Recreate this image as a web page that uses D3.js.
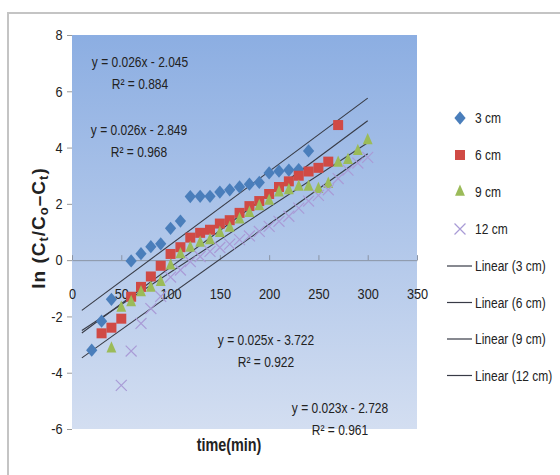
<!DOCTYPE html>
<html>
<head>
<meta charset="utf-8">
<script src="https://cdn.jsdelivr.net/npm/d3@7"></script>
<style>
  body { margin: 0; background: #fff; }
  svg text { font-family: "Liberation Sans", Arial, sans-serif; fill: #222; }
</style>
</head>
<body>
<div id="chart"></div>
<script>
// sample times (min)
const times = [20, 30, 40, 50, 60, 70, 80, 90, 100, 110, 120, 130, 140, 150, 160,
  170, 180, 190, 200, 210, 220, 230, 240, 250, 260, 270, 280, 290, 300];

// ln(Ct/Co-Ct) per bed height, null = no point
const cm3 = [-3.2, -2.17, -1.39, null, -0.03, 0.23, 0.48, 0.58, 1.13, 1.39, 2.26, 2.27,
  2.27, 2.42, 2.5, 2.6, 2.7, 2.76, 3.1, 3.16, 3.2, 3.22, 3.88, null, null, null, null, null, null];
const cm6 = [null, -2.6, -2.4, -2.08, -1.3, -0.95, -0.58, -0.2, 0.22, 0.46, 0.8, 0.97,
  1.08, 1.3, 1.42, 1.68, 1.92, 2.1, 2.35, 2.6, 2.8, 3.0, 3.15, 3.28, 3.5, 4.8, null, null, null];
const cm9 = [null, null, -3.15, -1.7, -1.5, -1.15, -0.99, -0.78, -0.2, 0.2, 0.43, 0.61,
  0.7, 0.96, 1.14, 1.44, 1.67, 1.91, 2.1, 2.4, 2.48, 2.6, 2.6, 2.52, 2.7, 3.45, 3.55, 3.87, 4.25];
const cm12 = [null, null, null, -4.45, -3.23, -2.25, -1.72, -1.29, -0.6, -0.35, -0.05, 0.13,
  0.31, 0.45, 0.57, 0.73, 0.86, 1.02, 1.2, 1.38, 1.56, 1.85, 2.1, 2.3, 2.5, 2.9, 3.2, 3.45, 3.65];

const seriesNames = ["3 cm", "6 cm", "9 cm", "12 cm"];
const seriesColors = ["#4a7ebb", "#d04a45", "#9bbb59", "#a99bd6"];
const seriesShapes = ["diamond", "square", "triangle", "cross"];

// trendlines: slope, intercept, R²
const trendNames = ["Linear (3 cm)", "Linear (6 cm)", "Linear (9 cm)", "Linear (12 cm)"];
const trendSlopes = [0.026, 0.026, 0.025, 0.023];
const trendIntercepts = [-2.045, -2.849, -3.722, -2.728];
const trendR2 = ["0.884", "0.968", "0.922", "0.961"];
const trendRange = [10, 300];

const xTicks = [0, 50, 100, 150, 200, 250, 300, 350];
const yTicks = [-6, -4, -2, 0, 2, 4, 6, 8];

const width = 560, height = 475;
const plot = { left: 72, right: 417, top: 35, bottom: 429 };
const squeeze = 0.8; // narrow the text like the condensed original font

const svg = d3.select("#chart").append("svg")
  .attr("width", width)
  .attr("height", height);

// text placed at (x, y) and squeezed horizontally
function label(parent, x, y, str, size, anchor) {
  return parent.append("text")
    .attr("transform", `translate(${x},${y}) scale(${squeeze},1)`)
    .attr("text-anchor", anchor || "start")
    .style("font-size", size + "px")
    .text(str);
}

// outer frame
svg.append("rect")
  .attr("x", 8).attr("y", 13)
  .attr("width", 600).attr("height", 500)
  .attr("fill", "#fff")
  .attr("stroke", "#c4c4c4")
  .attr("stroke-width", 2);

const x = d3.scaleLinear().domain([0, 350]).range([plot.left, plot.right]);
const y = d3.scaleLinear().domain([-6, 8]).range([plot.bottom, plot.top]);

// plot background gradient
const grad = svg.append("defs").append("linearGradient")
  .attr("id", "bg").attr("x1", 0).attr("y1", 0).attr("x2", 0).attr("y2", 1);
grad.append("stop").attr("offset", "0%").attr("stop-color", "#8caee2");
grad.append("stop").attr("offset", "100%").attr("stop-color", "#d3def1");

svg.append("rect")
  .attr("x", plot.left).attr("y", plot.top)
  .attr("width", plot.right - plot.left)
  .attr("height", plot.bottom - plot.top)
  .attr("fill", "url(#bg)");

// y axis (ticks only, outside)
const yAxis = svg.append("g")
  .attr("transform", `translate(${plot.left},0)`)
  .call(d3.axisLeft(y).tickValues(yTicks).tickFormat(d => String(d)).tickSize(5).tickPadding(6));
yAxis.select(".domain").remove();
yAxis.selectAll("line").attr("stroke", "#999");
yAxis.selectAll("text")
  .style("font-size", "15px").attr("fill", "#333")
  .attr("transform", `scale(${squeeze + 0.05},1)`);

// x axis at y = 0, ticks pointing up, labels below
const xAxis = svg.append("g")
  .attr("transform", `translate(0,${y(0)})`)
  .call(d3.axisBottom(x).tickValues(xTicks).tickFormat(d => String(d)).tickSize(-5).tickSizeOuter(0).tickPadding(28));
xAxis.select(".domain").attr("stroke", "#8a94a6");
xAxis.selectAll("line").attr("stroke", "#8a94a6");
xAxis.selectAll("text")
  .style("font-size", "15px").attr("fill", "#333")
  .attr("transform", `scale(${squeeze + 0.05},1)`);

// trendlines
const trendLine = d3.line().x(d => x(d[0])).y(d => y(d[1]));
trendSlopes.forEach((m, i) => {
  const pts = trendRange.map(t => [t, m * t + trendIntercepts[i]]);
  svg.append("path")
    .attr("d", trendLine(pts))
    .attr("fill", "none")
    .attr("stroke", "#383b46")
    .attr("stroke-width", 1.1);
});

// markers
const symbolFor = {
  diamond: d3.symbol().type(d3.symbolDiamond).size(60),
  square: d3.symbol().type(d3.symbolSquare).size(100),
  triangle: d3.symbol().type(d3.symbolTriangle).size(52),
  cross: d3.symbol().type(d3.symbolX).size(80)
};
const shapeTransform = s => s === "diamond" ? " scale(1.35,0.92)" : (s === "triangle" ? " scale(0.9,1.2)" : "");

[cm3, cm6, cm9, cm12].forEach((vals, i) => {
  const pts = times.map((t, j) => [t, vals[j]]).filter(d => d[1] !== null);
  const shape = seriesShapes[i];
  svg.append("g").selectAll("path")
    .data(pts)
    .join("path")
    .attr("transform", d => `translate(${x(d[0])},${y(d[1])})` + shapeTransform(shape))
    .attr("d", symbolFor[shape])
    .attr("fill", shape === "cross" ? "none" : seriesColors[i])
    .attr("stroke", shape === "cross" ? seriesColors[i] : "none")
    .attr("stroke-width", 1.2);
});

// trendline equations
const eqPos = [[140, 62], [139, 130], [266, 340], [340, 408]];
eqPos.forEach((p, i) => {
  const sign = trendIntercepts[i] < 0 ? "-" : "+";
  label(svg, p[0], p[1] + 5,
    `y = ${trendSlopes[i].toFixed(3)}x ${sign} ${Math.abs(trendIntercepts[i]).toFixed(3)}`, 15, "middle");
  label(svg, p[0], p[1] + 27, `R² = ${trendR2[i]}`, 15, "middle");
});

// axis titles
label(svg, 229, 451, "time(min)", 18, "middle").style("font-weight", "bold");

const yTitle = svg.append("text")
  .attr("transform", "translate(45,228) rotate(-90)")
  .attr("text-anchor", "middle")
  .style("font-size", "19px").style("font-weight", "bold")
  .attr("letter-spacing", "1px");
yTitle.append("tspan").text("ln (C");
yTitle.append("tspan").attr("baseline-shift", "-3").style("font-size", "13px").text("t");
yTitle.append("tspan").text("/C");
yTitle.append("tspan").attr("baseline-shift", "-3").style("font-size", "13px").text("o");
yTitle.append("tspan").text("–C");
yTitle.append("tspan").attr("baseline-shift", "-3").style("font-size", "13px").text("t");
yTitle.append("tspan").text(")");

// legend
const legend = svg.append("g");
seriesNames.forEach((name, i) => {
  const ly = 118 + i * 37;
  const shape = seriesShapes[i];
  legend.append("path")
    .attr("transform", `translate(460,${ly})` + shapeTransform(shape))
    .attr("d", symbolFor[shape])
    .attr("fill", shape === "cross" ? "none" : seriesColors[i])
    .attr("stroke", shape === "cross" ? seriesColors[i] : "none")
    .attr("stroke-width", 1.2);
  label(legend, 475, ly + 5, name, 15);
});
trendNames.forEach((name, i) => {
  const ly = 266 + i * 36.5;
  legend.append("line")
    .attr("x1", 447).attr("x2", 472)
    .attr("y1", ly).attr("y2", ly)
    .attr("stroke", "#383b46").attr("stroke-width", 1.2);
  label(legend, 475, ly + 5, name, 15);
});
</script>
</body>
</html>
